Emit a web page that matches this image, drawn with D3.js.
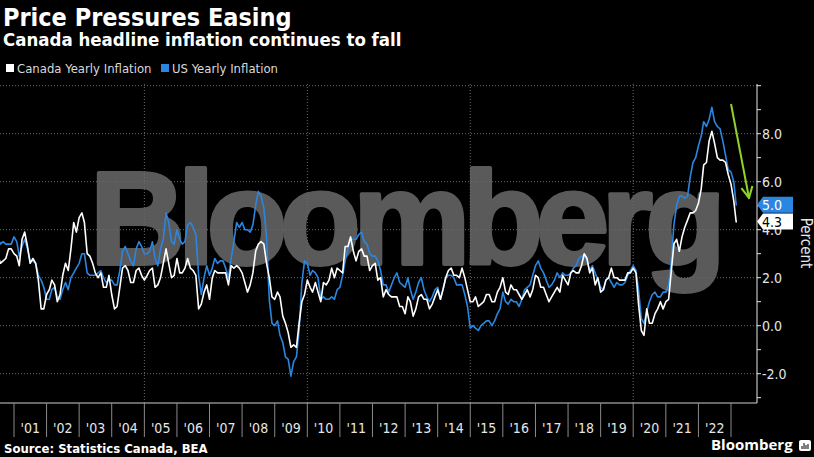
<!DOCTYPE html>
<html>
<head>
<meta charset="utf-8">
<script src="https://cdn.jsdelivr.net/npm/d3@7"></script>
<style>
  body { margin: 0; background: #000; }
  svg { display: block; font-family: 'DejaVu Sans Condensed', 'DejaVu Sans', sans-serif; }
</style>
</head>
<body>
<svg id="chart" width="814" height="457"></svg>
<script>
// monthly year-over-year CPI, first value is July 2000, last is March 2023
const startMonth = new Date(2000, 6, 1)
const canadaInflation = [
  3.0, 2.6, 2.7, 2.8, 3.2, 3.2,
  3.0, 2.9, 2.5, 3.6, 3.9, 3.3, 2.6, 2.8, 2.6, 1.9, 0.7, 0.7,
  1.3, 1.5, 1.9, 1.7, 1.0, 1.3, 2.1, 2.6, 2.3, 3.2, 4.3, 3.9,
  4.5, 4.7, 4.3, 3.0, 2.9, 2.6, 2.2, 2.0, 2.2, 1.6, 1.6, 2.1,
  1.3, 0.7, 0.8, 1.6, 2.4, 2.5, 2.3, 1.8, 1.8, 2.3, 2.4, 2.1,
  1.9, 2.1, 2.3, 2.4, 1.6, 1.7, 2.0, 2.6, 3.2, 2.6, 2.0, 2.1,
  2.8, 2.2, 2.2, 2.4, 2.8, 2.4, 2.3, 2.1, 0.7, 0.9, 1.4, 1.7,
  1.1, 2.0, 2.3, 2.2, 2.2, 2.2, 2.2, 1.7, 2.5, 2.4, 2.5, 2.4,
  2.2, 1.8, 1.4, 1.7, 2.2, 3.1, 3.4, 3.5, 3.4, 2.6, 2.0, 1.2,
  1.1, 1.4, 1.2, 0.4, 0.1, -0.3, -0.9, -0.8, -0.9, 0.1, 1.0, 1.3,
  1.9, 1.6, 1.4, 1.8, 1.4, 1.0, 1.8, 1.7, 1.9, 2.4, 2.0, 2.4,
  2.3, 2.2, 3.3, 3.3, 3.7, 3.1, 2.7, 3.1, 3.2, 2.9, 2.9, 2.3,
  2.5, 2.6, 1.9, 2.0, 1.2, 1.5, 1.3, 1.2, 1.2, 1.2, 0.8, 0.8,
  0.5, 1.2, 1.0, 0.4, 0.7, 1.2, 1.3, 1.1, 1.1, 0.7, 0.9, 1.2,
  1.5, 1.1, 1.5, 2.0, 2.3, 2.4, 2.1, 2.1, 2.0, 2.4, 2.0, 1.5,
  1.0, 1.0, 1.2, 0.8, 0.9, 1.0, 1.3, 1.3, 1.0, 1.0, 1.4, 1.6,
  2.0, 1.4, 1.3, 1.7, 1.5, 1.5, 1.3, 1.1, 1.3, 1.5, 1.2, 1.5,
  2.1, 2.0, 1.6, 1.6, 1.3, 1.0, 1.2, 1.4, 1.6, 1.4, 2.1, 1.9,
  1.7, 2.2, 2.3, 2.2, 2.2, 2.5, 3.0, 2.8, 2.2, 2.4, 1.7, 2.0,
  1.4, 1.5, 1.9, 2.0, 2.4, 2.0, 2.0, 1.9, 1.9, 1.9, 2.2, 2.2,
  2.4, 2.2, 0.9, -0.2, -0.4, 0.7, 0.1, 0.1, 0.5, 0.7, 1.0, 0.7,
  1.0, 1.1, 2.2, 3.4, 3.6, 3.1, 3.7, 4.1, 4.4, 4.7, 4.7, 4.8,
  5.1, 5.7, 6.7, 6.8, 7.7, 8.1, 7.6, 7.0, 6.9, 6.9, 6.8, 6.3,
  5.9, 5.2, 4.3
]
const usInflation = [
  3.7, 3.4, 3.5, 3.4, 3.4, 3.4,
  3.7, 3.5, 2.9, 3.3, 3.6, 3.2, 2.7, 2.7, 2.6, 2.1, 1.9, 1.6,
  1.1, 1.1, 1.5, 1.6, 1.2, 1.1, 1.5, 1.8, 1.5, 2.0, 2.2, 2.4,
  2.6, 3.0, 3.0, 2.2, 2.1, 2.1, 2.1, 2.2, 2.3, 2.0, 1.8, 1.9,
  1.9, 1.7, 1.7, 2.3, 3.1, 3.3, 3.0, 2.7, 2.5, 3.2, 3.5, 3.3,
  3.0, 3.0, 3.1, 3.5, 2.8, 2.5, 3.2, 3.6, 4.7, 4.3, 3.5, 3.4,
  4.0, 3.6, 3.4, 3.5, 4.2, 4.3, 4.1, 3.8, 2.1, 1.3, 2.0, 2.5,
  2.1, 2.4, 2.8, 2.6, 2.7, 2.7, 2.4, 2.0, 2.8, 3.5, 4.3, 4.1,
  4.3, 4.0, 4.0, 3.9, 4.2, 5.0, 5.6, 5.4, 4.9, 3.7, 1.1, 0.1,
  0.0, 0.2, -0.4, -0.7, -1.3, -1.4, -2.1, -1.5, -1.3, -0.2, 1.8, 2.7,
  2.6, 2.1, 2.3, 2.2, 2.0, 1.1, 1.2, 1.1, 1.1, 1.2, 1.1, 1.5,
  1.6, 2.1, 2.7, 3.2, 3.6, 3.6, 3.6, 3.8, 3.9, 3.5, 3.4, 3.0,
  2.9, 2.9, 2.7, 2.3, 1.7, 1.7, 1.4, 1.7, 2.0, 2.2, 1.8, 1.7,
  1.6, 2.0, 1.5, 1.1, 1.4, 1.8, 2.0, 1.5, 1.2, 1.0, 1.2, 1.5,
  1.6, 1.1, 1.5, 2.0, 2.1, 2.1, 2.0, 1.7, 1.7, 1.7, 1.3, 0.8,
  -0.1, 0.0, -0.1, -0.2, 0.0, 0.1, 0.2, 0.2, 0.0, 0.2, 0.5, 0.7,
  1.4, 1.0, 0.9, 1.1, 1.0, 1.0, 0.8, 1.1, 1.5, 1.6, 1.7, 2.1,
  2.5, 2.7, 2.4, 2.2, 1.9, 1.6, 1.7, 1.9, 2.2, 2.0, 2.2, 2.1,
  2.1, 2.2, 2.4, 2.5, 2.8, 2.9, 2.9, 2.7, 2.3, 2.5, 2.2, 1.9,
  1.6, 1.5, 1.9, 2.0, 1.8, 1.6, 1.8, 1.7, 1.7, 1.8, 2.1, 2.3,
  2.5, 2.3, 1.5, 0.3, 0.1, 0.6, 1.0, 1.3, 1.4, 1.2, 1.2, 1.4,
  1.4, 1.7, 2.6, 4.2, 5.0, 5.4, 5.4, 5.3, 5.4, 6.2, 6.8, 7.0,
  7.5, 7.9, 8.5, 8.3, 8.6, 9.1, 8.5, 8.3, 8.2, 7.7, 7.1, 6.5,
  6.4, 6.0, 5.0
]
const yearLabels = ["'01", "'02", "'03", "'04", "'05", "'06", "'07", "'08", "'09", "'10", "'11",
  "'12", "'13", "'14", "'15", "'16", "'17", "'18", "'19", "'20", "'21", "'22"]
const firstLabelYear = 2001
const gridYears = [2005, 2010, 2015, 2020]
const yTickValues = [-3, -2, -1, 0, 1, 2, 3, 4, 5, 6, 7, 8, 9, 10]
const yLabelValues = [-2, 0, 2, 4, 6, 8]
const yGridValues = [-2, 0, 2, 4, 6, 8, 10]
const legendItems = [
  {'name': 'Canada Yearly Inflation', 'color': '#ffffff'},
  {'name': 'US Yearly Inflation', 'color': '#2a86e0'}
]

const canadaColor = '#ffffff'
const usColor = '#2a86e0'
const axisX = 757
const plotTop = 84
const plotBottom = 403

let svg = d3.select('#chart')
svg.append('rect').attr('width', 814).attr('height', 457).attr('fill', '#000')

let monthDate = i => d3.timeMonth.offset(startMonth, i)
let xScale = d3.scaleTime()
  .domain([new Date(2001, 0, 1), new Date(2023, 0, 1)])
  .range([14, 731])
let yScale = d3.scaleLinear()
  .domain([-3, 10])
  .range([397.7, 85.7])

// watermark
svg.append('text')
  .attr('x', 90)
  .attr('y', 264)
  .attr('textLength', 636)
  .attr('lengthAdjust', 'spacing')
  .style('font-family', "'Liberation Sans', Arial, sans-serif")
  .style('font-weight', 'bold')
  .style('font-size', '132px')
  .style('fill', '#5a5a5a')
  .style('stroke', '#5a5a5a')
  .style('stroke-width', 4)
  .style('stroke-linejoin', 'round')
  .text('Bloomberg')

// grid
svg.append('g')
  .selectAll('line')
  .data(yGridValues)
  .enter()
  .append('line')
  .attr('x1', 0)
  .attr('x2', axisX)
  .attr('y1', d => yScale(d))
  .attr('y2', d => yScale(d))
  .style('stroke', '#6a6a6a')
  .style('stroke-width', 1)
  .style('stroke-dasharray', '1,2')
svg.append('g')
  .selectAll('line')
  .data(gridYears)
  .enter()
  .append('line')
  .attr('x1', d => xScale(new Date(d, 0, 1)))
  .attr('x2', d => xScale(new Date(d, 0, 1)))
  .attr('y1', plotTop)
  .attr('y2', plotBottom)
  .style('stroke', '#6a6a6a')
  .style('stroke-width', 1)
  .style('stroke-dasharray', '1,2')

// lines
let line = d3.line()
  .x((d, i) => xScale(monthDate(i)))
  .y(d => yScale(d))
svg.append('path')
  .datum(usInflation)
  .attr('d', line)
  .style('fill', 'none')
  .style('stroke', usColor)
  .style('stroke-width', 1.6)
  .style('stroke-linejoin', 'round')
svg.append('path')
  .datum(canadaInflation)
  .attr('d', line)
  .style('fill', 'none')
  .style('stroke', canadaColor)
  .style('stroke-width', 1.6)
  .style('stroke-linejoin', 'round')

// bottom axis
svg.append('line')
  .attr('x1', 0).attr('x2', axisX)
  .attr('y1', plotBottom).attr('y2', plotBottom)
  .style('stroke', '#cfcfcf')
let xTicks = d3.range(firstLabelYear, firstLabelYear + yearLabels.length + 1)
svg.append('g')
  .selectAll('line')
  .data(xTicks)
  .enter()
  .append('line')
  .attr('x1', d => xScale(new Date(d, 0, 1)))
  .attr('x2', d => xScale(new Date(d, 0, 1)))
  .attr('y1', plotBottom)
  .attr('y2', plotBottom + 34)
  .style('stroke', '#8a8a8a')
svg.append('g')
  .selectAll('text')
  .data(yearLabels)
  .enter()
  .append('text')
  .attr('x', (d, i) => (xScale(new Date(firstLabelYear + i, 0, 1)) + xScale(new Date(firstLabelYear + i + 1, 0, 1))) / 2)
  .attr('y', 433)
  .attr('text-anchor', 'middle')
  .style('font-size', '14px')
  .style('fill', '#e6e6e6')
  .text(d => d)

// right axis
let yAxis = svg.append('g')
yAxis.append('line')
  .attr('x1', axisX).attr('x2', axisX)
  .attr('y1', plotTop).attr('y2', plotBottom)
  .style('stroke', '#e6e6e6')
yAxis.selectAll('.tick')
  .data(yTickValues)
  .enter()
  .append('line')
  .attr('x1', axisX)
  .attr('x2', axisX + 4)
  .attr('y1', d => yScale(d))
  .attr('y2', d => yScale(d))
  .style('stroke', '#e6e6e6')
yAxis.selectAll('text')
  .data(yLabelValues)
  .enter()
  .append('text')
  .attr('x', axisX + 5)
  .attr('y', d => yScale(d) + 5)
  .style('font-size', '14px')
  .style('fill', '#e6e6e6')
  .text(d => d3.format('.1f')(d).replace('−', '-'))
svg.append('text')
  .attr('transform', 'translate(801,243) rotate(90)')
  .attr('text-anchor', 'middle')
  .style('font-size', '15px')
  .style('fill', '#e6e6e6')
  .text('Percent')

// last value tags
let lastValues = [
  {'value': usInflation[usInflation.length - 1], 'fill': usColor, 'text': '#ffffff'},
  {'value': canadaInflation[canadaInflation.length - 1], 'fill': canadaColor, 'text': '#000000'}
]
lastValues.forEach(v => {
  let cy = yScale(v.value) - 1
  svg.append('path')
    .attr('d', `M${axisX},${cy} L${axisX + 6},${cy - 8} L793,${cy - 8} L793,${cy + 8} L${axisX + 6},${cy + 8} Z`)
    .style('fill', v.fill)
  svg.append('text')
    .attr('x', axisX + 5)
    .attr('y', cy + 5)
    .style('font-size', '14px')
    .style('fill', v.text)
    .text(d3.format('.1f')(v.value))
})

// annotation arrow
svg.append('defs')
  .append('marker')
  .attr('id', 'arrowHead')
  .attr('viewBox', '0 0 10 10')
  .attr('refX', 9)
  .attr('refY', 5)
  .attr('markerWidth', 7)
  .attr('markerHeight', 7)
  .attr('orient', 'auto')
  .append('path')
  .attr('d', 'M1,1 L9,5 L1,9')
  .style('fill', 'none')
  .style('stroke', '#8fd22a')
  .style('stroke-width', 1.5)
svg.append('line')
  .attr('x1', 731).attr('y1', 104)
  .attr('x2', 749).attr('y2', 198)
  .style('stroke', '#8fd22a')
  .style('stroke-width', 2)
  .attr('marker-end', 'url(#arrowHead)')

// titles
svg.append('text')
  .attr('x', 3).attr('y', 26)
  .style('font-size', '25px')
  .style('font-weight', 'bold')
  .style('fill', '#ffffff')
  .text('Price Pressures Easing')
svg.append('text')
  .attr('x', 3).attr('y', 46)
  .style('font-size', '18.5px')
  .style('font-weight', 'bold')
  .style('fill', '#ffffff')
  .text('Canada headline inflation continues to fall')

// legend
let legend = svg.append('g')
let legendX = [6, 161]
legendItems.forEach((item, i) => {
  legend.append('rect')
    .attr('x', legendX[i]).attr('y', 64)
    .attr('width', 8).attr('height', 8)
    .style('fill', item.color)
  legend.append('text')
    .attr('x', legendX[i] + 11).attr('y', 73)
    .style('font-size', '13px')
    .style('fill', '#d9d9d9')
    .text(item.name)
})

// footer
svg.append('text')
  .attr('x', 4).attr('y', 453)
  .style('font-size', '13px')
  .style('font-weight', 'bold')
  .style('fill', '#ffffff')
  .text('Source: Statistics Canada, BEA')
svg.append('text')
  .attr('x', 711).attr('y', 450)
  .style('font-family', "'Open Sans', 'DejaVu Sans', sans-serif")
  .style('font-size', '15px')
  .style('font-weight', 'bold')
  .style('fill', '#ffffff')
  .text('Bloomberg')
let icon = svg.append('g').attr('transform', 'translate(799,440)')
icon.append('rect')
  .attr('width', 12).attr('height', 11).attr('rx', 2)
  .style('fill', '#ffffff')
icon.append('path')
  .attr('d', 'M3,9 L3,6 M5,9 L5,3 M7,9 L7,5 M9,9 L9,4')
  .style('stroke', '#000')
  .style('stroke-width', 1)
</script>
</body>
</html>
